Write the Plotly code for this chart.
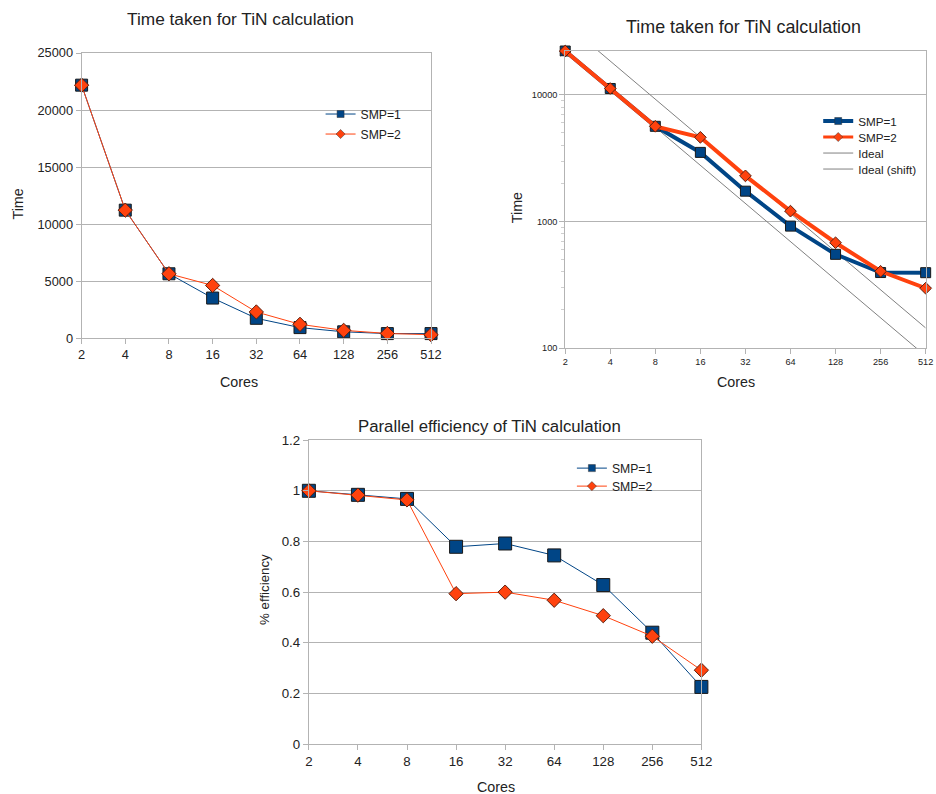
import math
import plotly.graph_objects as go

# ---------------- data ----------------
cores = [2, 4, 8, 16, 32, 64, 128, 256, 512]
core_labels = ["2", "4", "8", "16", "32", "64", "128", "256", "512"]

time_smp1 = [22180, 11220, 5640, 3510, 1734, 919, 550, 395, 394]
time_smp2 = [22180, 11220, 5640, 4616, 2291, 1206, 679, 404, 297]

eff_smp1 = [1.0, 0.984, 0.968, 0.779, 0.792, 0.745, 0.628, 0.44, 0.226]
eff_smp2 = [1.0, 0.983, 0.964, 0.594, 0.600, 0.568, 0.507, 0.426, 0.292]

time_ticks = [0, 5000, 10000, 15000, 20000, 25000]
log_ticks = [100, 1000, 10000]
log_minor = [200, 300, 400, 500, 600, 700, 800, 900,
             2000, 3000, 4000, 5000, 6000, 7000, 8000, 9000, 20000]

# ideal scaling lines derived from the data
ideal = [time_smp1[0] * cores[0] / c for c in cores]
ideal_shift = [time_smp2[3] * cores[3] / c for c in cores]

BLUE = "#004586"
ORANGE = "#ff420e"
GRID = "#b3b3b3"
TXT = "#222222"
IDEAL = "#808080"
FONT = "Liberation Sans, Arial, sans-serif"

W, H = 952, 810
# empirical mapping of the captured picture: shown = off + scale * figure pixel
SX, OX = 0.983, 3.5
SY, OY = 0.980, 7.0
FS = 1 / SY


def px(v):
    return min(1.0, max(0.0, (v - OX) / SX / W))


def py(v):
    return min(1.0, max(0.0, 1 - (v - OY) / SY / H))


def f(s):
    return round(s * FS, 1)


fig = go.Figure()


def add_pair(xa, ya, y1, y2, lw, s1, s2):
    fig.add_trace(go.Scatter(
        x=cores, y=y1, name="SMP=1", mode="lines+markers", xaxis=xa, yaxis=ya,
        line=dict(color=BLUE, width=lw),
        marker=dict(symbol="square", size=s1, color=BLUE, line=dict(color="#1a1a1a", width=1)),
        cliponaxis=False, showlegend=False))
    fig.add_trace(go.Scatter(
        x=cores, y=y2, name="SMP=2", mode="lines+markers", xaxis=xa, yaxis=ya,
        line=dict(color=ORANGE, width=lw),
        marker=dict(symbol="diamond", size=s2, color=ORANGE, line=dict(color="#5a2010", width=1)),
        cliponaxis=False, showlegend=False))


# chart 1: linear time
add_pair("x", "y", time_smp1, time_smp2, 1, 12, 11)
# chart 2: log time
fig.add_trace(go.Scatter(x=cores, y=ideal, name="Ideal", mode="lines", xaxis="x2", yaxis="y2",
                         line=dict(color=IDEAL, width=1), showlegend=False))
fig.add_trace(go.Scatter(x=cores, y=ideal_shift, name="Ideal (shift)", mode="lines", xaxis="x2", yaxis="y2",
                         line=dict(color=IDEAL, width=1), showlegend=False))
add_pair("x2", "y2", time_smp1, time_smp2, 4, 10, 9)
# chart 3: efficiency
add_pair("x3", "y3", eff_smp1, eff_smp2, 1, 13, 11)

# legend entries: one small legend per entry so the spacing matches the original
legend_items = [
    # name, color, line width, symbol, text-left x, centre y, font size
    ("SMP=1", BLUE, 1, "square", 359, 113, 12),
    ("SMP=2", ORANGE, 1, "diamond", 359, 133, 12),
    ("SMP=1", BLUE, 4, "square", 856, 120, 11.5),
    ("SMP=2", ORANGE, 3, "diamond", 856, 136, 11.5),
    ("Ideal", IDEAL, 1, None, 856, 152, 11.5),
    ("Ideal (shift)", IDEAL, 1, None, 856, 168, 11.5),
    ("SMP=1", BLUE, 1, "square", 610, 467, 12),
    ("SMP=2", ORANGE, 1, "diamond", 610, 485, 12),
]
legend_layout = {}
for i, (name, color, lw, sym, tx, ty, fs) in enumerate(legend_items):
    key = "legend" if i == 0 else f"legend{i + 1}"
    fig.add_trace(go.Scatter(
        x=[None], y=[None], name=name, legend=key,
        mode="lines+markers" if sym else "lines",
        line=dict(color=color, width=lw),
        marker=dict(symbol=sym or "circle", size=7, color=color, line=dict(color="#333333", width=0.5)),
        hoverinfo="skip"))
    legend_layout[key] = dict(x=px(tx - 40 * SX), y=py(ty), xanchor="left", yanchor="middle",
                              bgcolor="rgba(0,0,0,0)", itemwidth=30,
                              font=dict(size=f(fs), color=TXT, family=FONT))

EPS = 1e-6
xrange_log = [math.log10(cores[0]) - EPS, math.log10(cores[-1]) + EPS]


def xaxis(domain, anchor, fs):
    return dict(domain=domain, anchor=anchor, type="log",
                range=xrange_log, tickvals=cores, ticktext=core_labels,
                showgrid=False, showline=True, linecolor=GRID, mirror=True,
                ticks="outside", ticklen=5, tickcolor=GRID, zeroline=False,
                tickfont=dict(size=f(fs), color=TXT, family=FONT))


def yaxis_common(domain, anchor, fs):
    return dict(domain=domain, anchor=anchor, showgrid=True, gridcolor=GRID,
                showline=True, linecolor=GRID, mirror=True, ticks="outside",
                ticklen=5, tickcolor=GRID, zeroline=False,
                tickfont=dict(size=f(fs), color=TXT, family=FONT))


d1x = [px(81), px(430)]
d1y = [py(337), py(52)]
d2x = [px(564), px(924)]
d2y = [py(347), py(50)]
d3x = [px(308), px(700)]
d3y = [py(743), py(439)]

y1 = yaxis_common(d1y, "x", 12.5)
y1.update(range=[0, 25000], tickvals=time_ticks, tickformat="d")
y2 = yaxis_common(d2y, "x2", 9)
y2.update(type="log", range=[2, math.log10(max(time_smp1)) + EPS],
          tickvals=log_ticks, ticktext=[str(v) for v in log_ticks],
          minor=dict(tickmode="array", tickvals=log_minor, ticks="outside", ticklen=3,
                     tickcolor="#cfcfcf", showgrid=False))
y3 = yaxis_common(d3y, "x3", 13)
y3.update(range=[0, 1.2], dtick=0.2)

fig.update_layout(
    width=W, height=H, margin=dict(l=0, r=0, t=0, b=0),
    paper_bgcolor="white", plot_bgcolor="white",
    font=dict(family=FONT, color=TXT),
    xaxis=xaxis(d1x, "y", 12.5),
    xaxis2=xaxis(d2x, "y2", 9),
    xaxis3=xaxis(d3x, "y3", 13),
    yaxis=y1, yaxis2=y2, yaxis3=y3,
    showlegend=True,
    **legend_layout,
)

ann = [
    ("Time taken for TiN calculation", 240, 18, 17, 0),
    ("Time", 18, 203, 14, -90),
    ("Cores", 238, 381, 14, 0),
    ("Time taken for TiN calculation", 742, 26, 17.5, 0),
    ("Time", 516, 207, 14, -90),
    ("Cores", 735, 381, 14, 0),
    ("Parallel efficiency of TiN calculation", 488, 425, 16.5, 0),
    ("% efficiency", 263, 588, 13, -90),
    ("Cores", 495, 786, 14, 0),
]
for text, x, y, fs, rot in ann:
    fig.add_annotation(text=text, x=px(x), y=py(y), xref="paper", yref="paper",
                       xanchor="center", yanchor="middle", showarrow=False, textangle=rot,
                       font=dict(size=f(fs), color=TXT, family=FONT))

fig.write_html("out.html")
